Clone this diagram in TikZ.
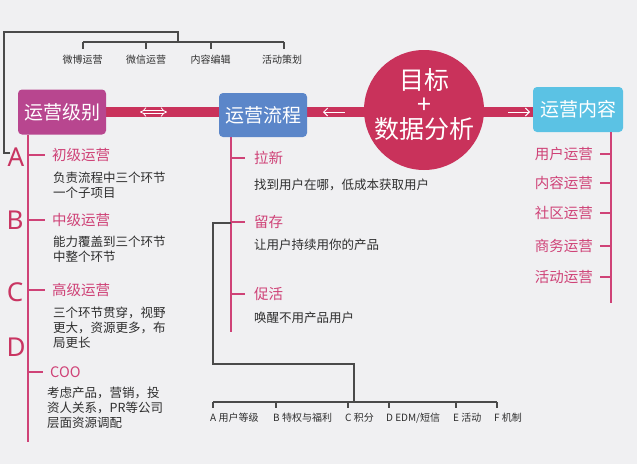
\documentclass[tikz,border=0pt]{standalone}
\usepackage{fontspec}
\setmainfont{Noto Sans CJK SC}
\newfontfamily\latinfont{Noto Sans}
\usetikzlibrary{arrows.meta,backgrounds}
\definecolor{bgc}{HTML}{F0F0F2}
\definecolor{barc}{HTML}{C9325B}
\definecolor{pinkc}{HTML}{CF4277}
\definecolor{letterc}{HTML}{C93562}
\definecolor{magbox}{HTML}{B8468F}
\definecolor{bluebox}{HTML}{5B86C9}
\definecolor{cyanbox}{HTML}{5BC2E4}
\definecolor{darkc}{HTML}{2E2E2E}
\definecolor{linec}{HTML}{4A4A4A}
\begin{document}
\begin{tikzpicture}[x=1pt,y=-1pt,
  mainbox/.style={rounded corners=4pt, text=white, font=\fontsize{19}{19}\selectfont, minimum width=88pt, minimum height=45pt, inner sep=0},
  circtext/.style={text=white, inner sep=0, font=\fontsize{25}{25}\selectfont},
  lvl/.style={text=pinkc, inner sep=0, anchor=west, font=\fontsize{14.5}{14.5}\selectfont},
  rlvl/.style={text=pinkc, inner sep=0, anchor=east, font=\fontsize{14.5}{14.5}\selectfont},
  desc/.style={text=darkc, inner sep=0, anchor=west, font=\fontsize{12.5}{12.5}\selectfont},
  small/.style={text=darkc, inner sep=0, font=\fontsize{10}{10}\selectfont},
  letter/.style={text=letterc, inner sep=0, font=\latinfont\fontsize{26}{26}\selectfont},
  pinkline/.style={draw=pinkc, line width=2pt},
  darkline/.style={draw=linec, line width=1.3pt},
  bar/.style={draw=barc, line width=10pt},
  barrow/.style={draw=white, line width=1pt}
]
\useasboundingbox (0,0) rectangle (637,464);

% main boxes
\node[mainbox, fill=magbox] (box1) at (62,112) {运营级别};
\node[mainbox, fill=bluebox, minimum height=44pt] (box2) at (263,115) {运营流程};
\node[mainbox, fill=cyanbox, minimum width=90pt] (box4) at (578,109.5) {运营内容};
\node[circle, fill=barc, minimum size=120pt, inner sep=0] (goal) at (424,110) {};
\node[circtext] (g1) at (424,80) {目标};
\node[circtext] (g2) at (424,106) {+};
\node[circtext] (g3) at (424,129) {数据分析};

\begin{scope}[on background layer]
  \fill[bgc] (0,0) rectangle (637,464);
  \draw[bar] (box1.east) -- (box1.east -| box4.west);
\end{scope}

% arrows on bar
\coordinate (a1) at (140,112); \coordinate (a2) at (167,112);
\draw[draw=white, double=barc, double distance=2.4pt, line width=0.8pt, {Implies}-{Implies}] (a1) -- (a2);
\coordinate (a3) at (323,112); \coordinate (a4) at (345,112);
\draw[barrow, {Straight Barb[length=4pt,width=8pt]}-] (a3) -- (a4);
\coordinate (a5) at (508,112); \coordinate (a6) at (530,112);
\draw[barrow, -{Straight Barb[length=4pt,width=8pt]}] (a5) -- (a6);

% top tree
\node[letter] (LA) at (16,157) {A};
\node[letter] (LB) at (15,220) {B};
\node[letter] (LC) at (15,292) {C};
\node[letter] (LD) at (16,347) {D};
\coordinate (T1) at (4,32);
\coordinate (T2) at (178,32);
\coordinate (T3) at (178,42);
\coordinate (k1) at (83,42); \coordinate (k2) at (146,42);
\coordinate (k3) at (211,42); \coordinate (k4) at (284,42);
\draw[darkline] (10,153) -| (T1) -- (T2) -- (T3);
\draw[darkline] (k1) -- (k4);
\foreach \k in {k1,k2,k3,k4} \draw[darkline] (\k) -- ++(0,7);
\node[small] (t1) at (82.5,60) {微博运营};
\node[small] (t2) at (146,60) {微信运营};
\node[small] (t3) at (210.5,60) {内容编辑};
\node[small] (t4) at (282,60) {活动策划};

% left column
\coordinate (Lbot) at (28,442);
\draw[pinkline] (box1.south -| Lbot) -- (Lbot);
\node[lvl] (l1) at (52,155) {初级运营};
\node[lvl] (l2) at (52,220) {中级运营};
\node[lvl] (l3) at (52,290) {高级运营};
\node[lvl] (l4) at (50,372) {COO};
\foreach \n in {l1,l2,l3,l4} \draw[pinkline] (Lbot |- \n.west) -- ([xshift=-7pt]\n.west);
\node[desc] (d1a) at (53,178) {负责流程中三个环节};
\node[desc] (d1b) at (53,193) {一个子项目};
\node[desc] (d2a) at (53,242) {能力覆盖到三个环节};
\node[desc] (d2b) at (53,257) {中整个环节};
\node[desc] (d3a) at (53,313) {三个环节贯穿，视野};
\node[desc] (d3b) at (53,328) {更大，资源更多，布};
\node[desc] (d3c) at (53,343) {局更长};
\node[desc] (d4a) at (47,393) {考虑产品，营销，投};
\node[desc] (d4b) at (47,408) {资人关系，PR等公司};
\node[desc] (d4c) at (47,423) {层面资源调配};

% middle column
\coordinate (Mbot) at (231,332);
\draw[pinkline] (box2.south -| Mbot) -- (Mbot);
\node[lvl] (m1) at (254,158) {拉新};
\node[lvl] (m2) at (254,222) {留存};
\node[lvl] (m3) at (254,294) {促活};
\foreach \n in {m1,m2,m3} \draw[pinkline] (Mbot |- \n.west) -- ([xshift=-9pt]\n.west);
\node[desc] (e1) at (254,185) {找到用户在哪，低成本获取用户};
\node[desc] (e2) at (254,245) {让用户持续用你的产品};
\node[desc] (e3) at (254,318) {唤醒不用产品用户};

% bottom tree
\coordinate (P1) at (213,223);
\coordinate (P2) at (213,364);
\coordinate (P3) at (354,364);
\coordinate (P4) at (354,402);
\draw[darkline] (Mbot |- P1) -- (P1) -- (P2) -- (P3) -- (P4);
\coordinate (q1) at (213,402); \coordinate (q2) at (276,402);
\coordinate (q3) at (348,402); \coordinate (q4) at (389,402);
\coordinate (q5) at (456,402); \coordinate (q6) at (497,402);
\draw[darkline] (q1) -- (q6);
\foreach \q in {q1,q2,q3,q4,q5,q6} \draw[darkline] (\q) -- ++(0,6);
\node[small, anchor=west] (b1) at ([xshift=-3pt,yshift=-16pt]q1) {A 用户等级};
\node[small, anchor=west] (b2) at ([xshift=-3pt,yshift=-16pt]q2) {B 特权与福利};
\node[small, anchor=west] (b3) at ([xshift=-3pt,yshift=-16pt]q3) {C 积分};
\node[small, anchor=west] (b4) at ([xshift=-3pt,yshift=-16pt]q4) {D EDM/短信};
\node[small, anchor=west] (b5) at ([xshift=-3pt,yshift=-16pt]q5) {E 活动};
\node[small, anchor=west] (b6) at ([xshift=-3pt,yshift=-16pt]q6) {F 机制};

% right column
\coordinate (Rbot) at (611,303);
\draw[pinkline] (box4.south -| Rbot) -- (Rbot);
\node[rlvl] (r1) at (593,154) {用户运营};
\node[rlvl] (r2) at (593,183) {内容运营};
\node[rlvl] (r3) at (593,213) {社区运营};
\node[rlvl] (r4) at (593,246) {商务运营};
\node[rlvl] (r5) at (593,277) {活动运营};
\foreach \n in {r1,r2,r3,r4,r5} \draw[pinkline] (Rbot |- \n.east) -- ([xshift=7pt]\n.east);
\end{tikzpicture}
\end{document}
